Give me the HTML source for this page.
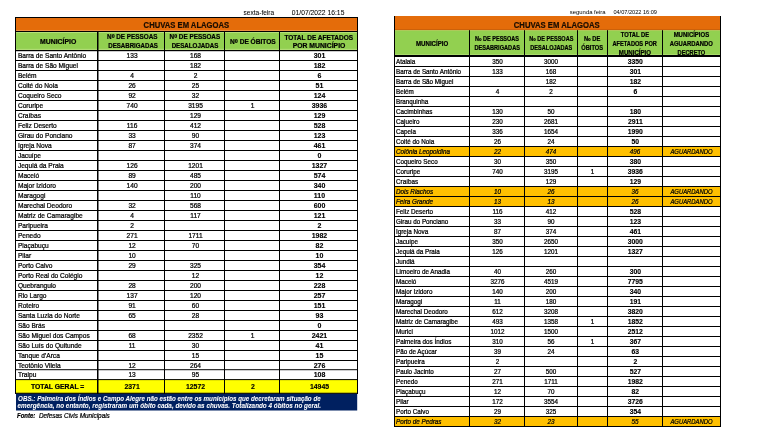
<!DOCTYPE html>
<html><head><meta charset="utf-8"><title>Chuvas em Alagoas</title>
<style>
html,body{margin:0;padding:0;background:#fff;}
body{width:760px;height:438px;overflow:hidden;}
svg{display:block;font-family:"Liberation Sans",sans-serif;will-change:transform;}
</style></head><body>
<svg width="760" height="438" viewBox="0 0 760 438">
<defs><clipPath id="hc"><rect x="390" y="28" width="340" height="27.2"/></clipPath></defs>
<rect x="15.00" y="17.00" width="343.00" height="14.00" fill="#E46C0A"/>
<rect x="15.00" y="31.00" width="343.00" height="19.00" fill="#92D050"/>
<rect x="15.00" y="50.00" width="343.00" height="329.60" fill="#fff"/>
<rect x="15.00" y="379.60" width="343.00" height="13.70" fill="#FFFF00"/>
<rect x="16.00" y="393.60" width="341.20" height="16.90" fill="#002060"/>
<rect x="16.00" y="30.20" width="341.00" height="0.80" fill="#ee9a50"/>
<rect x="16.00" y="32.00" width="341.00" height="1.00" fill="#b6e07a"/>
<rect x="16.00" y="48.80" width="341.00" height="1.20" fill="#b0dc74"/>
<rect x="15.00" y="17.00" width="343.00" height="1.00" fill="#000"/>
<rect x="15.00" y="31.00" width="343.00" height="1.00" fill="#000"/>
<rect x="15.00" y="50.00" width="343.00" height="1.20" fill="#000"/>
<rect x="15.00" y="60.00" width="343.00" height="1.00" fill="#000"/>
<rect x="15.00" y="70.00" width="343.00" height="1.00" fill="#000"/>
<rect x="15.00" y="80.00" width="343.00" height="1.00" fill="#000"/>
<rect x="15.00" y="90.00" width="343.00" height="1.00" fill="#000"/>
<rect x="15.00" y="100.00" width="343.00" height="1.00" fill="#000"/>
<rect x="15.00" y="110.00" width="343.00" height="1.00" fill="#000"/>
<rect x="15.00" y="120.00" width="343.00" height="1.00" fill="#000"/>
<rect x="15.00" y="130.00" width="343.00" height="1.00" fill="#000"/>
<rect x="15.00" y="140.00" width="343.00" height="1.00" fill="#000"/>
<rect x="15.00" y="150.00" width="343.00" height="1.00" fill="#000"/>
<rect x="15.00" y="160.00" width="343.00" height="1.00" fill="#000"/>
<rect x="15.00" y="170.00" width="343.00" height="1.00" fill="#000"/>
<rect x="15.00" y="180.00" width="343.00" height="1.00" fill="#000"/>
<rect x="15.00" y="190.00" width="343.00" height="1.00" fill="#000"/>
<rect x="15.00" y="200.00" width="343.00" height="1.00" fill="#000"/>
<rect x="15.00" y="210.00" width="343.00" height="1.00" fill="#000"/>
<rect x="15.00" y="220.00" width="343.00" height="1.00" fill="#000"/>
<rect x="15.00" y="230.00" width="343.00" height="1.00" fill="#000"/>
<rect x="15.00" y="240.00" width="343.00" height="1.00" fill="#000"/>
<rect x="15.00" y="250.00" width="343.00" height="1.00" fill="#000"/>
<rect x="15.00" y="260.00" width="343.00" height="1.00" fill="#000"/>
<rect x="15.00" y="270.00" width="343.00" height="1.00" fill="#000"/>
<rect x="15.00" y="280.00" width="343.00" height="1.00" fill="#000"/>
<rect x="15.00" y="290.00" width="343.00" height="1.00" fill="#000"/>
<rect x="15.00" y="300.00" width="343.00" height="1.00" fill="#000"/>
<rect x="15.00" y="310.00" width="343.00" height="1.00" fill="#000"/>
<rect x="15.00" y="320.00" width="343.00" height="1.00" fill="#000"/>
<rect x="15.00" y="330.00" width="343.00" height="1.00" fill="#000"/>
<rect x="15.00" y="340.00" width="343.00" height="1.00" fill="#000"/>
<rect x="15.00" y="350.00" width="343.00" height="1.00" fill="#000"/>
<rect x="15.00" y="360.00" width="343.00" height="1.00" fill="#000"/>
<rect x="15.00" y="369.20" width="343.00" height="1.00" fill="#000"/>
<rect x="15.00" y="379.10" width="343.00" height="1.00" fill="#000"/>
<rect x="15.00" y="392.75" width="343.00" height="1.10" fill="#000"/>
<rect x="15.00" y="17.00" width="1.00" height="376.80" fill="#000"/>
<rect x="97.00" y="31.00" width="1.50" height="362.80" fill="#000"/>
<rect x="164.00" y="31.00" width="1.00" height="362.80" fill="#000"/>
<rect x="224.00" y="31.00" width="1.00" height="362.80" fill="#000"/>
<rect x="279.00" y="31.00" width="1.00" height="362.80" fill="#000"/>
<rect x="357.00" y="17.00" width="1.00" height="376.80" fill="#000"/>
<text x="143.60" y="27.80" font-size="9.0" font-weight="bold" font-style="normal" fill="#1a0d00" text-anchor="start" textLength="85.60" lengthAdjust="spacingAndGlyphs" stroke="#1a0d00" stroke-width="0.22">CHUVAS EM ALAGOAS</text>
<text x="243.60" y="15.00" font-size="6.7" font-weight="normal" font-style="normal" fill="#000" text-anchor="start" textLength="30.50" lengthAdjust="spacingAndGlyphs" stroke="#000" stroke-width="0.05">sexta-feira</text>
<text x="291.80" y="15.00" font-size="6.9" font-weight="normal" font-style="normal" fill="#000" text-anchor="start" textLength="52.60" lengthAdjust="spacingAndGlyphs" stroke="#000" stroke-width="0.05">01/07/2022 16:15</text>
<text x="58.12" y="43.80" font-size="7.1" font-weight="bold" font-style="normal" fill="#000" text-anchor="middle" textLength="36.30" lengthAdjust="spacingAndGlyphs" stroke="#000" stroke-width="0.22">MUNICÍPIO</text>
<text x="132.30" y="38.80" font-size="7.0" font-weight="bold" font-style="normal" fill="#000" text-anchor="middle" textLength="50.50" lengthAdjust="spacingAndGlyphs" stroke="#000" stroke-width="0.22">N<tspan font-size="8.75" dy="2.66">º</tspan><tspan dy="-2.66"> DE PESSOAS</tspan></text>
<text x="133.10" y="47.90" font-size="7.0" font-weight="bold" font-style="normal" fill="#000" text-anchor="middle" textLength="49.70" lengthAdjust="spacingAndGlyphs" stroke="#000" stroke-width="0.22">DESABRIGADAS</text>
<text x="194.90" y="38.80" font-size="7.0" font-weight="bold" font-style="normal" fill="#000" text-anchor="middle" textLength="50.60" lengthAdjust="spacingAndGlyphs" stroke="#000" stroke-width="0.22">N<tspan font-size="8.75" dy="2.66">º</tspan><tspan dy="-2.66"> DE PESSOAS</tspan></text>
<text x="195.00" y="47.90" font-size="7.0" font-weight="bold" font-style="normal" fill="#000" text-anchor="middle" textLength="46.70" lengthAdjust="spacingAndGlyphs" stroke="#000" stroke-width="0.22">DESALOJADAS</text>
<text x="252.90" y="43.60" font-size="7.0" font-weight="bold" font-style="normal" fill="#000" text-anchor="middle" textLength="45.70" lengthAdjust="spacingAndGlyphs" stroke="#000" stroke-width="0.22">N<tspan font-size="8.75" dy="2.66">º</tspan><tspan dy="-2.66"> DE ÓBITOS</tspan></text>
<text x="318.80" y="39.50" font-size="7.1" font-weight="bold" font-style="normal" fill="#000" text-anchor="middle" textLength="68.80" lengthAdjust="spacingAndGlyphs" stroke="#000" stroke-width="0.22">TOTAL DE AFETADOS</text>
<text x="319.00" y="47.80" font-size="7.1" font-weight="bold" font-style="normal" fill="#000" text-anchor="middle" textLength="52.70" lengthAdjust="spacingAndGlyphs" stroke="#000" stroke-width="0.22">POR MUNICÍPIO</text>
<text x="17.90" y="58.20" font-size="6.6" font-weight="normal" font-style="normal" fill="#000" text-anchor="start" stroke="#000" stroke-width="0.22">Barra de Santo Antônio</text>
<text x="132.12" y="58.20" font-size="6.6" font-weight="normal" font-style="normal" fill="#000" text-anchor="middle" stroke="#000" stroke-width="0.22">133</text>
<text x="195.50" y="58.20" font-size="6.6" font-weight="normal" font-style="normal" fill="#000" text-anchor="middle" stroke="#000" stroke-width="0.22">168</text>
<text x="319.50" y="58.20" font-size="7.6" font-weight="bold" font-style="normal" fill="#000" text-anchor="middle" textLength="11.68" lengthAdjust="spacingAndGlyphs" stroke="#000" stroke-width="0.14">301</text>
<text x="17.90" y="68.20" font-size="6.6" font-weight="normal" font-style="normal" fill="#000" text-anchor="start" stroke="#000" stroke-width="0.22">Barra de São Miguel</text>
<text x="195.50" y="68.20" font-size="6.6" font-weight="normal" font-style="normal" fill="#000" text-anchor="middle" stroke="#000" stroke-width="0.22">182</text>
<text x="319.50" y="68.20" font-size="7.6" font-weight="bold" font-style="normal" fill="#000" text-anchor="middle" textLength="11.68" lengthAdjust="spacingAndGlyphs" stroke="#000" stroke-width="0.14">182</text>
<text x="17.90" y="78.20" font-size="6.6" font-weight="normal" font-style="normal" fill="#000" text-anchor="start" stroke="#000" stroke-width="0.22">Belém</text>
<text x="132.12" y="78.20" font-size="6.6" font-weight="normal" font-style="normal" fill="#000" text-anchor="middle" stroke="#000" stroke-width="0.22">4</text>
<text x="195.50" y="78.20" font-size="6.6" font-weight="normal" font-style="normal" fill="#000" text-anchor="middle" stroke="#000" stroke-width="0.22">2</text>
<text x="319.50" y="78.20" font-size="7.6" font-weight="bold" font-style="normal" fill="#000" text-anchor="middle" textLength="3.89" lengthAdjust="spacingAndGlyphs" stroke="#000" stroke-width="0.14">6</text>
<text x="17.90" y="88.20" font-size="6.6" font-weight="normal" font-style="normal" fill="#000" text-anchor="start" stroke="#000" stroke-width="0.22">Coité do Noia</text>
<text x="132.12" y="88.20" font-size="6.6" font-weight="normal" font-style="normal" fill="#000" text-anchor="middle" stroke="#000" stroke-width="0.22">26</text>
<text x="195.50" y="88.20" font-size="6.6" font-weight="normal" font-style="normal" fill="#000" text-anchor="middle" stroke="#000" stroke-width="0.22">25</text>
<text x="319.50" y="88.20" font-size="7.6" font-weight="bold" font-style="normal" fill="#000" text-anchor="middle" textLength="7.79" lengthAdjust="spacingAndGlyphs" stroke="#000" stroke-width="0.14">51</text>
<text x="17.90" y="98.20" font-size="6.6" font-weight="normal" font-style="normal" fill="#000" text-anchor="start" stroke="#000" stroke-width="0.22">Coqueiro Seco</text>
<text x="132.12" y="98.20" font-size="6.6" font-weight="normal" font-style="normal" fill="#000" text-anchor="middle" stroke="#000" stroke-width="0.22">92</text>
<text x="195.50" y="98.20" font-size="6.6" font-weight="normal" font-style="normal" fill="#000" text-anchor="middle" stroke="#000" stroke-width="0.22">32</text>
<text x="319.50" y="98.20" font-size="7.6" font-weight="bold" font-style="normal" fill="#000" text-anchor="middle" textLength="11.68" lengthAdjust="spacingAndGlyphs" stroke="#000" stroke-width="0.14">124</text>
<text x="17.90" y="108.20" font-size="6.6" font-weight="normal" font-style="normal" fill="#000" text-anchor="start" stroke="#000" stroke-width="0.22">Coruripe</text>
<text x="132.12" y="108.20" font-size="6.6" font-weight="normal" font-style="normal" fill="#000" text-anchor="middle" stroke="#000" stroke-width="0.22">740</text>
<text x="195.50" y="108.20" font-size="6.6" font-weight="normal" font-style="normal" fill="#000" text-anchor="middle" stroke="#000" stroke-width="0.22">3195</text>
<text x="252.50" y="108.20" font-size="6.6" font-weight="normal" font-style="normal" fill="#000" text-anchor="middle" stroke="#000" stroke-width="0.22">1</text>
<text x="319.50" y="108.20" font-size="7.6" font-weight="bold" font-style="normal" fill="#000" text-anchor="middle" textLength="15.57" lengthAdjust="spacingAndGlyphs" stroke="#000" stroke-width="0.14">3936</text>
<text x="17.90" y="118.20" font-size="6.6" font-weight="normal" font-style="normal" fill="#000" text-anchor="start" stroke="#000" stroke-width="0.22">Craíbas</text>
<text x="195.50" y="118.20" font-size="6.6" font-weight="normal" font-style="normal" fill="#000" text-anchor="middle" stroke="#000" stroke-width="0.22">129</text>
<text x="319.50" y="118.20" font-size="7.6" font-weight="bold" font-style="normal" fill="#000" text-anchor="middle" textLength="11.68" lengthAdjust="spacingAndGlyphs" stroke="#000" stroke-width="0.14">129</text>
<text x="17.90" y="128.20" font-size="6.6" font-weight="normal" font-style="normal" fill="#000" text-anchor="start" stroke="#000" stroke-width="0.22">Feliz Deserto</text>
<text x="132.12" y="128.20" font-size="6.6" font-weight="normal" font-style="normal" fill="#000" text-anchor="middle" stroke="#000" stroke-width="0.22">116</text>
<text x="195.50" y="128.20" font-size="6.6" font-weight="normal" font-style="normal" fill="#000" text-anchor="middle" stroke="#000" stroke-width="0.22">412</text>
<text x="319.50" y="128.20" font-size="7.6" font-weight="bold" font-style="normal" fill="#000" text-anchor="middle" textLength="11.68" lengthAdjust="spacingAndGlyphs" stroke="#000" stroke-width="0.14">528</text>
<text x="17.90" y="138.20" font-size="6.6" font-weight="normal" font-style="normal" fill="#000" text-anchor="start" stroke="#000" stroke-width="0.22">Girau do Ponciano</text>
<text x="132.12" y="138.20" font-size="6.6" font-weight="normal" font-style="normal" fill="#000" text-anchor="middle" stroke="#000" stroke-width="0.22">33</text>
<text x="195.50" y="138.20" font-size="6.6" font-weight="normal" font-style="normal" fill="#000" text-anchor="middle" stroke="#000" stroke-width="0.22">90</text>
<text x="319.50" y="138.20" font-size="7.6" font-weight="bold" font-style="normal" fill="#000" text-anchor="middle" textLength="11.68" lengthAdjust="spacingAndGlyphs" stroke="#000" stroke-width="0.14">123</text>
<text x="17.90" y="148.20" font-size="6.6" font-weight="normal" font-style="normal" fill="#000" text-anchor="start" stroke="#000" stroke-width="0.22">Igreja Nova</text>
<text x="132.12" y="148.20" font-size="6.6" font-weight="normal" font-style="normal" fill="#000" text-anchor="middle" stroke="#000" stroke-width="0.22">87</text>
<text x="195.50" y="148.20" font-size="6.6" font-weight="normal" font-style="normal" fill="#000" text-anchor="middle" stroke="#000" stroke-width="0.22">374</text>
<text x="319.50" y="148.20" font-size="7.6" font-weight="bold" font-style="normal" fill="#000" text-anchor="middle" textLength="11.68" lengthAdjust="spacingAndGlyphs" stroke="#000" stroke-width="0.14">461</text>
<text x="17.90" y="158.20" font-size="6.6" font-weight="normal" font-style="normal" fill="#000" text-anchor="start" stroke="#000" stroke-width="0.22">Jacuípe</text>
<text x="319.50" y="158.20" font-size="7.6" font-weight="bold" font-style="normal" fill="#000" text-anchor="middle" textLength="3.89" lengthAdjust="spacingAndGlyphs" stroke="#000" stroke-width="0.14">0</text>
<text x="17.90" y="168.20" font-size="6.6" font-weight="normal" font-style="normal" fill="#000" text-anchor="start" stroke="#000" stroke-width="0.22">Jequiá da Praia</text>
<text x="132.12" y="168.20" font-size="6.6" font-weight="normal" font-style="normal" fill="#000" text-anchor="middle" stroke="#000" stroke-width="0.22">126</text>
<text x="195.50" y="168.20" font-size="6.6" font-weight="normal" font-style="normal" fill="#000" text-anchor="middle" stroke="#000" stroke-width="0.22">1201</text>
<text x="319.50" y="168.20" font-size="7.6" font-weight="bold" font-style="normal" fill="#000" text-anchor="middle" textLength="15.57" lengthAdjust="spacingAndGlyphs" stroke="#000" stroke-width="0.14">1327</text>
<text x="17.90" y="178.20" font-size="6.6" font-weight="normal" font-style="normal" fill="#000" text-anchor="start" stroke="#000" stroke-width="0.22">Maceió</text>
<text x="132.12" y="178.20" font-size="6.6" font-weight="normal" font-style="normal" fill="#000" text-anchor="middle" stroke="#000" stroke-width="0.22">89</text>
<text x="195.50" y="178.20" font-size="6.6" font-weight="normal" font-style="normal" fill="#000" text-anchor="middle" stroke="#000" stroke-width="0.22">485</text>
<text x="319.50" y="178.20" font-size="7.6" font-weight="bold" font-style="normal" fill="#000" text-anchor="middle" textLength="11.68" lengthAdjust="spacingAndGlyphs" stroke="#000" stroke-width="0.14">574</text>
<text x="17.90" y="188.20" font-size="6.6" font-weight="normal" font-style="normal" fill="#000" text-anchor="start" stroke="#000" stroke-width="0.22">Major Izidoro</text>
<text x="132.12" y="188.20" font-size="6.6" font-weight="normal" font-style="normal" fill="#000" text-anchor="middle" stroke="#000" stroke-width="0.22">140</text>
<text x="195.50" y="188.20" font-size="6.6" font-weight="normal" font-style="normal" fill="#000" text-anchor="middle" stroke="#000" stroke-width="0.22">200</text>
<text x="319.50" y="188.20" font-size="7.6" font-weight="bold" font-style="normal" fill="#000" text-anchor="middle" textLength="11.68" lengthAdjust="spacingAndGlyphs" stroke="#000" stroke-width="0.14">340</text>
<text x="17.90" y="198.20" font-size="6.6" font-weight="normal" font-style="normal" fill="#000" text-anchor="start" stroke="#000" stroke-width="0.22">Maragogi</text>
<text x="195.50" y="198.20" font-size="6.6" font-weight="normal" font-style="normal" fill="#000" text-anchor="middle" stroke="#000" stroke-width="0.22">110</text>
<text x="319.50" y="198.20" font-size="7.6" font-weight="bold" font-style="normal" fill="#000" text-anchor="middle" textLength="11.29" lengthAdjust="spacingAndGlyphs" stroke="#000" stroke-width="0.14">110</text>
<text x="17.90" y="208.20" font-size="6.6" font-weight="normal" font-style="normal" fill="#000" text-anchor="start" stroke="#000" stroke-width="0.22">Marechal Deodoro</text>
<text x="132.12" y="208.20" font-size="6.6" font-weight="normal" font-style="normal" fill="#000" text-anchor="middle" stroke="#000" stroke-width="0.22">32</text>
<text x="195.50" y="208.20" font-size="6.6" font-weight="normal" font-style="normal" fill="#000" text-anchor="middle" stroke="#000" stroke-width="0.22">568</text>
<text x="319.50" y="208.20" font-size="7.6" font-weight="bold" font-style="normal" fill="#000" text-anchor="middle" textLength="11.68" lengthAdjust="spacingAndGlyphs" stroke="#000" stroke-width="0.14">600</text>
<text x="17.90" y="218.20" font-size="6.6" font-weight="normal" font-style="normal" fill="#000" text-anchor="start" stroke="#000" stroke-width="0.22">Matriz de Camaragibe</text>
<text x="132.12" y="218.20" font-size="6.6" font-weight="normal" font-style="normal" fill="#000" text-anchor="middle" stroke="#000" stroke-width="0.22">4</text>
<text x="195.50" y="218.20" font-size="6.6" font-weight="normal" font-style="normal" fill="#000" text-anchor="middle" stroke="#000" stroke-width="0.22">117</text>
<text x="319.50" y="218.20" font-size="7.6" font-weight="bold" font-style="normal" fill="#000" text-anchor="middle" textLength="11.68" lengthAdjust="spacingAndGlyphs" stroke="#000" stroke-width="0.14">121</text>
<text x="17.90" y="228.20" font-size="6.6" font-weight="normal" font-style="normal" fill="#000" text-anchor="start" stroke="#000" stroke-width="0.22">Paripueira</text>
<text x="132.12" y="228.20" font-size="6.6" font-weight="normal" font-style="normal" fill="#000" text-anchor="middle" stroke="#000" stroke-width="0.22">2</text>
<text x="319.50" y="228.20" font-size="7.6" font-weight="bold" font-style="normal" fill="#000" text-anchor="middle" textLength="3.89" lengthAdjust="spacingAndGlyphs" stroke="#000" stroke-width="0.14">2</text>
<text x="17.90" y="238.20" font-size="6.6" font-weight="normal" font-style="normal" fill="#000" text-anchor="start" stroke="#000" stroke-width="0.22">Penedo</text>
<text x="132.12" y="238.20" font-size="6.6" font-weight="normal" font-style="normal" fill="#000" text-anchor="middle" stroke="#000" stroke-width="0.22">271</text>
<text x="195.50" y="238.20" font-size="6.6" font-weight="normal" font-style="normal" fill="#000" text-anchor="middle" stroke="#000" stroke-width="0.22">1711</text>
<text x="319.50" y="238.20" font-size="7.6" font-weight="bold" font-style="normal" fill="#000" text-anchor="middle" textLength="15.57" lengthAdjust="spacingAndGlyphs" stroke="#000" stroke-width="0.14">1982</text>
<text x="17.90" y="248.20" font-size="6.6" font-weight="normal" font-style="normal" fill="#000" text-anchor="start" stroke="#000" stroke-width="0.22">Piaçabuçu</text>
<text x="132.12" y="248.20" font-size="6.6" font-weight="normal" font-style="normal" fill="#000" text-anchor="middle" stroke="#000" stroke-width="0.22">12</text>
<text x="195.50" y="248.20" font-size="6.6" font-weight="normal" font-style="normal" fill="#000" text-anchor="middle" stroke="#000" stroke-width="0.22">70</text>
<text x="319.50" y="248.20" font-size="7.6" font-weight="bold" font-style="normal" fill="#000" text-anchor="middle" textLength="7.79" lengthAdjust="spacingAndGlyphs" stroke="#000" stroke-width="0.14">82</text>
<text x="17.90" y="258.20" font-size="6.6" font-weight="normal" font-style="normal" fill="#000" text-anchor="start" stroke="#000" stroke-width="0.22">Pilar</text>
<text x="132.12" y="258.20" font-size="6.6" font-weight="normal" font-style="normal" fill="#000" text-anchor="middle" stroke="#000" stroke-width="0.22">10</text>
<text x="319.50" y="258.20" font-size="7.6" font-weight="bold" font-style="normal" fill="#000" text-anchor="middle" textLength="7.79" lengthAdjust="spacingAndGlyphs" stroke="#000" stroke-width="0.14">10</text>
<text x="17.90" y="268.20" font-size="6.6" font-weight="normal" font-style="normal" fill="#000" text-anchor="start" stroke="#000" stroke-width="0.22">Porto Calvo</text>
<text x="132.12" y="268.20" font-size="6.6" font-weight="normal" font-style="normal" fill="#000" text-anchor="middle" stroke="#000" stroke-width="0.22">29</text>
<text x="195.50" y="268.20" font-size="6.6" font-weight="normal" font-style="normal" fill="#000" text-anchor="middle" stroke="#000" stroke-width="0.22">325</text>
<text x="319.50" y="268.20" font-size="7.6" font-weight="bold" font-style="normal" fill="#000" text-anchor="middle" textLength="11.68" lengthAdjust="spacingAndGlyphs" stroke="#000" stroke-width="0.14">354</text>
<text x="17.90" y="278.20" font-size="6.6" font-weight="normal" font-style="normal" fill="#000" text-anchor="start" stroke="#000" stroke-width="0.22">Porto Real do Colégio</text>
<text x="195.50" y="278.20" font-size="6.6" font-weight="normal" font-style="normal" fill="#000" text-anchor="middle" stroke="#000" stroke-width="0.22">12</text>
<text x="319.50" y="278.20" font-size="7.6" font-weight="bold" font-style="normal" fill="#000" text-anchor="middle" textLength="7.79" lengthAdjust="spacingAndGlyphs" stroke="#000" stroke-width="0.14">12</text>
<text x="17.90" y="288.20" font-size="6.6" font-weight="normal" font-style="normal" fill="#000" text-anchor="start" stroke="#000" stroke-width="0.22">Quebrangulo</text>
<text x="132.12" y="288.20" font-size="6.6" font-weight="normal" font-style="normal" fill="#000" text-anchor="middle" stroke="#000" stroke-width="0.22">28</text>
<text x="195.50" y="288.20" font-size="6.6" font-weight="normal" font-style="normal" fill="#000" text-anchor="middle" stroke="#000" stroke-width="0.22">200</text>
<text x="319.50" y="288.20" font-size="7.6" font-weight="bold" font-style="normal" fill="#000" text-anchor="middle" textLength="11.68" lengthAdjust="spacingAndGlyphs" stroke="#000" stroke-width="0.14">228</text>
<text x="17.90" y="298.20" font-size="6.6" font-weight="normal" font-style="normal" fill="#000" text-anchor="start" stroke="#000" stroke-width="0.22">Rio Largo</text>
<text x="132.12" y="298.20" font-size="6.6" font-weight="normal" font-style="normal" fill="#000" text-anchor="middle" stroke="#000" stroke-width="0.22">137</text>
<text x="195.50" y="298.20" font-size="6.6" font-weight="normal" font-style="normal" fill="#000" text-anchor="middle" stroke="#000" stroke-width="0.22">120</text>
<text x="319.50" y="298.20" font-size="7.6" font-weight="bold" font-style="normal" fill="#000" text-anchor="middle" textLength="11.68" lengthAdjust="spacingAndGlyphs" stroke="#000" stroke-width="0.14">257</text>
<text x="17.90" y="308.20" font-size="6.6" font-weight="normal" font-style="normal" fill="#000" text-anchor="start" stroke="#000" stroke-width="0.22">Roteiro</text>
<text x="132.12" y="308.20" font-size="6.6" font-weight="normal" font-style="normal" fill="#000" text-anchor="middle" stroke="#000" stroke-width="0.22">91</text>
<text x="195.50" y="308.20" font-size="6.6" font-weight="normal" font-style="normal" fill="#000" text-anchor="middle" stroke="#000" stroke-width="0.22">60</text>
<text x="319.50" y="308.20" font-size="7.6" font-weight="bold" font-style="normal" fill="#000" text-anchor="middle" textLength="11.68" lengthAdjust="spacingAndGlyphs" stroke="#000" stroke-width="0.14">151</text>
<text x="17.90" y="318.20" font-size="6.6" font-weight="normal" font-style="normal" fill="#000" text-anchor="start" stroke="#000" stroke-width="0.22">Santa Luzia do Norte</text>
<text x="132.12" y="318.20" font-size="6.6" font-weight="normal" font-style="normal" fill="#000" text-anchor="middle" stroke="#000" stroke-width="0.22">65</text>
<text x="195.50" y="318.20" font-size="6.6" font-weight="normal" font-style="normal" fill="#000" text-anchor="middle" stroke="#000" stroke-width="0.22">28</text>
<text x="319.50" y="318.20" font-size="7.6" font-weight="bold" font-style="normal" fill="#000" text-anchor="middle" textLength="7.79" lengthAdjust="spacingAndGlyphs" stroke="#000" stroke-width="0.14">93</text>
<text x="17.90" y="328.20" font-size="6.6" font-weight="normal" font-style="normal" fill="#000" text-anchor="start" stroke="#000" stroke-width="0.22">São Brás</text>
<text x="319.50" y="328.20" font-size="7.6" font-weight="bold" font-style="normal" fill="#000" text-anchor="middle" textLength="3.89" lengthAdjust="spacingAndGlyphs" stroke="#000" stroke-width="0.14">0</text>
<text x="17.90" y="338.20" font-size="6.6" font-weight="normal" font-style="normal" fill="#000" text-anchor="start" stroke="#000" stroke-width="0.22">São Miguel dos Campos</text>
<text x="132.12" y="338.20" font-size="6.6" font-weight="normal" font-style="normal" fill="#000" text-anchor="middle" stroke="#000" stroke-width="0.22">68</text>
<text x="195.50" y="338.20" font-size="6.6" font-weight="normal" font-style="normal" fill="#000" text-anchor="middle" stroke="#000" stroke-width="0.22">2352</text>
<text x="252.50" y="338.20" font-size="6.6" font-weight="normal" font-style="normal" fill="#000" text-anchor="middle" stroke="#000" stroke-width="0.22">1</text>
<text x="319.50" y="338.20" font-size="7.6" font-weight="bold" font-style="normal" fill="#000" text-anchor="middle" textLength="15.57" lengthAdjust="spacingAndGlyphs" stroke="#000" stroke-width="0.14">2421</text>
<text x="17.90" y="348.20" font-size="6.6" font-weight="normal" font-style="normal" fill="#000" text-anchor="start" stroke="#000" stroke-width="0.22">São Luís do Quitunde</text>
<text x="132.12" y="348.20" font-size="6.6" font-weight="normal" font-style="normal" fill="#000" text-anchor="middle" stroke="#000" stroke-width="0.22">11</text>
<text x="195.50" y="348.20" font-size="6.6" font-weight="normal" font-style="normal" fill="#000" text-anchor="middle" stroke="#000" stroke-width="0.22">30</text>
<text x="319.50" y="348.20" font-size="7.6" font-weight="bold" font-style="normal" fill="#000" text-anchor="middle" textLength="7.79" lengthAdjust="spacingAndGlyphs" stroke="#000" stroke-width="0.14">41</text>
<text x="17.90" y="358.20" font-size="6.6" font-weight="normal" font-style="normal" fill="#000" text-anchor="start" stroke="#000" stroke-width="0.22">Tanque d&#x27;Arca</text>
<text x="195.50" y="358.20" font-size="6.6" font-weight="normal" font-style="normal" fill="#000" text-anchor="middle" stroke="#000" stroke-width="0.22">15</text>
<text x="319.50" y="358.20" font-size="7.6" font-weight="bold" font-style="normal" fill="#000" text-anchor="middle" textLength="7.79" lengthAdjust="spacingAndGlyphs" stroke="#000" stroke-width="0.14">15</text>
<text x="17.90" y="368.20" font-size="6.6" font-weight="normal" font-style="normal" fill="#000" text-anchor="start" stroke="#000" stroke-width="0.22">Teotônio Vilela</text>
<text x="132.12" y="368.20" font-size="6.6" font-weight="normal" font-style="normal" fill="#000" text-anchor="middle" stroke="#000" stroke-width="0.22">12</text>
<text x="195.50" y="368.20" font-size="6.6" font-weight="normal" font-style="normal" fill="#000" text-anchor="middle" stroke="#000" stroke-width="0.22">264</text>
<text x="319.50" y="368.20" font-size="7.6" font-weight="bold" font-style="normal" fill="#000" text-anchor="middle" textLength="11.68" lengthAdjust="spacingAndGlyphs" stroke="#000" stroke-width="0.14">276</text>
<text x="17.90" y="377.40" font-size="6.6" font-weight="normal" font-style="normal" fill="#000" text-anchor="start" stroke="#000" stroke-width="0.22">Traipu</text>
<text x="132.12" y="377.40" font-size="6.6" font-weight="normal" font-style="normal" fill="#000" text-anchor="middle" stroke="#000" stroke-width="0.22">13</text>
<text x="195.50" y="377.40" font-size="6.6" font-weight="normal" font-style="normal" fill="#000" text-anchor="middle" stroke="#000" stroke-width="0.22">95</text>
<text x="319.50" y="377.40" font-size="7.6" font-weight="bold" font-style="normal" fill="#000" text-anchor="middle" textLength="11.68" lengthAdjust="spacingAndGlyphs" stroke="#000" stroke-width="0.14">108</text>
<text x="57.62" y="388.85" font-size="6.8" font-weight="bold" font-style="normal" fill="#000" text-anchor="middle" stroke="#000" stroke-width="0.22">TOTAL GERAL =</text>
<text x="132.12" y="388.85" font-size="7.5" font-weight="bold" font-style="normal" fill="#000" text-anchor="middle" textLength="15.35" lengthAdjust="spacingAndGlyphs" stroke="#000" stroke-width="0.14">2371</text>
<text x="195.50" y="388.85" font-size="7.5" font-weight="bold" font-style="normal" fill="#000" text-anchor="middle" textLength="19.19" lengthAdjust="spacingAndGlyphs" stroke="#000" stroke-width="0.14">12572</text>
<text x="253.00" y="388.85" font-size="7.5" font-weight="bold" font-style="normal" fill="#000" text-anchor="middle" textLength="3.84" lengthAdjust="spacingAndGlyphs" stroke="#000" stroke-width="0.14">2</text>
<text x="319.50" y="388.85" font-size="7.5" font-weight="bold" font-style="normal" fill="#000" text-anchor="middle" textLength="19.19" lengthAdjust="spacingAndGlyphs" stroke="#000" stroke-width="0.14">14945</text>
<text x="18.10" y="400.60" font-size="7.0" font-weight="bold" font-style="italic" fill="#fff" text-anchor="start" textLength="302.60" lengthAdjust="spacingAndGlyphs" stroke="#fff" stroke-width="0.05">OBS.: Palmeira dos Índios e Campo Alegre não estão entre os municípios que decretaram situação de</text>
<text x="17.60" y="408.40" font-size="7.0" font-weight="bold" font-style="italic" fill="#fff" text-anchor="start" textLength="303.40" lengthAdjust="spacingAndGlyphs" stroke="#fff" stroke-width="0.05">emergência, no entanto, registraram um óbito cada, devido as chuvas. Totalizando 4 óbitos no geral.</text>
<text x="17.00" y="418.00" font-size="6.6" font-weight="bold" font-style="italic" fill="#000" text-anchor="start" textLength="18.30" lengthAdjust="spacingAndGlyphs" stroke="#000" stroke-width="0.22">Fonte:</text>
<text x="38.90" y="418.00" font-size="6.6" font-weight="normal" font-style="italic" fill="#000" text-anchor="start" textLength="70.90" lengthAdjust="spacingAndGlyphs" stroke="#000" stroke-width="0.22">Defesas Civis Municipais</text>
<rect x="394.00" y="16.00" width="327.00" height="14.20" fill="#E46C0A"/>
<rect x="394.00" y="30.20" width="327.00" height="25.80" fill="#92D050"/>
<rect x="394.00" y="56.50" width="327.00" height="10.00" fill="#fff"/>
<rect x="394.00" y="66.50" width="327.00" height="10.00" fill="#fff"/>
<rect x="394.00" y="76.50" width="327.00" height="10.00" fill="#fff"/>
<rect x="394.00" y="86.50" width="327.00" height="10.00" fill="#fff"/>
<rect x="394.00" y="96.50" width="327.00" height="10.00" fill="#fff"/>
<rect x="394.00" y="106.50" width="327.00" height="10.00" fill="#fff"/>
<rect x="394.00" y="116.50" width="327.00" height="10.00" fill="#fff"/>
<rect x="394.00" y="126.50" width="327.00" height="10.00" fill="#fff"/>
<rect x="394.00" y="136.50" width="327.00" height="10.00" fill="#fff"/>
<rect x="394.00" y="146.50" width="327.00" height="10.00" fill="#FFC000"/>
<rect x="394.00" y="156.50" width="327.00" height="10.00" fill="#fff"/>
<rect x="394.00" y="166.50" width="327.00" height="10.00" fill="#fff"/>
<rect x="394.00" y="176.50" width="327.00" height="10.00" fill="#fff"/>
<rect x="394.00" y="186.50" width="327.00" height="10.00" fill="#FFC000"/>
<rect x="394.00" y="196.50" width="327.00" height="10.00" fill="#FFC000"/>
<rect x="394.00" y="206.50" width="327.00" height="10.00" fill="#fff"/>
<rect x="394.00" y="216.50" width="327.00" height="10.00" fill="#fff"/>
<rect x="394.00" y="226.50" width="327.00" height="10.00" fill="#fff"/>
<rect x="394.00" y="236.50" width="327.00" height="10.00" fill="#fff"/>
<rect x="394.00" y="246.50" width="327.00" height="10.00" fill="#fff"/>
<rect x="394.00" y="256.50" width="327.00" height="10.00" fill="#fff"/>
<rect x="394.00" y="266.50" width="327.00" height="10.00" fill="#fff"/>
<rect x="394.00" y="276.50" width="327.00" height="10.00" fill="#fff"/>
<rect x="394.00" y="286.50" width="327.00" height="10.00" fill="#fff"/>
<rect x="394.00" y="296.50" width="327.00" height="10.00" fill="#fff"/>
<rect x="394.00" y="306.50" width="327.00" height="10.00" fill="#fff"/>
<rect x="394.00" y="316.50" width="327.00" height="10.00" fill="#fff"/>
<rect x="394.00" y="326.50" width="327.00" height="10.00" fill="#fff"/>
<rect x="394.00" y="336.50" width="327.00" height="10.00" fill="#fff"/>
<rect x="394.00" y="346.50" width="327.00" height="10.00" fill="#fff"/>
<rect x="394.00" y="356.50" width="327.00" height="10.00" fill="#fff"/>
<rect x="394.00" y="366.50" width="327.00" height="10.00" fill="#fff"/>
<rect x="394.00" y="376.50" width="327.00" height="10.00" fill="#fff"/>
<rect x="394.00" y="386.50" width="327.00" height="10.00" fill="#fff"/>
<rect x="394.00" y="396.50" width="327.00" height="10.00" fill="#fff"/>
<rect x="394.00" y="406.50" width="327.00" height="10.00" fill="#fff"/>
<rect x="394.00" y="416.50" width="327.00" height="10.00" fill="#FFC000"/>
<rect x="394.00" y="29.55" width="327.00" height="0.70" fill="#b0560c"/>
<rect x="394.00" y="30.40" width="327.00" height="0.60" fill="#b5d862"/>
<rect x="394.00" y="54.20" width="327.00" height="0.80" fill="#b0dc74"/>
<rect x="394.00" y="55.00" width="327.00" height="2.00" fill="#000"/>
<rect x="394.00" y="66.00" width="327.00" height="1.00" fill="#000"/>
<rect x="394.00" y="76.00" width="327.00" height="1.00" fill="#000"/>
<rect x="394.00" y="86.00" width="327.00" height="1.00" fill="#000"/>
<rect x="394.00" y="96.00" width="327.00" height="1.00" fill="#000"/>
<rect x="394.00" y="106.00" width="327.00" height="1.00" fill="#000"/>
<rect x="394.00" y="116.00" width="327.00" height="1.00" fill="#000"/>
<rect x="394.00" y="126.00" width="327.00" height="1.00" fill="#000"/>
<rect x="394.00" y="136.00" width="327.00" height="1.00" fill="#000"/>
<rect x="394.00" y="146.00" width="327.00" height="1.00" fill="#000"/>
<rect x="394.00" y="156.00" width="327.00" height="1.00" fill="#000"/>
<rect x="394.00" y="166.00" width="327.00" height="1.00" fill="#000"/>
<rect x="394.00" y="176.00" width="327.00" height="1.00" fill="#000"/>
<rect x="394.00" y="186.00" width="327.00" height="1.00" fill="#000"/>
<rect x="394.00" y="196.00" width="327.00" height="1.00" fill="#000"/>
<rect x="394.00" y="206.00" width="327.00" height="1.00" fill="#000"/>
<rect x="394.00" y="216.00" width="327.00" height="1.00" fill="#000"/>
<rect x="394.00" y="226.00" width="327.00" height="1.00" fill="#000"/>
<rect x="394.00" y="236.00" width="327.00" height="1.00" fill="#000"/>
<rect x="394.00" y="246.00" width="327.00" height="1.00" fill="#000"/>
<rect x="394.00" y="256.00" width="327.00" height="1.00" fill="#000"/>
<rect x="394.00" y="266.00" width="327.00" height="1.00" fill="#000"/>
<rect x="394.00" y="276.00" width="327.00" height="1.00" fill="#000"/>
<rect x="394.00" y="286.00" width="327.00" height="1.00" fill="#000"/>
<rect x="394.00" y="296.00" width="327.00" height="1.00" fill="#000"/>
<rect x="394.00" y="306.00" width="327.00" height="1.00" fill="#000"/>
<rect x="394.00" y="316.00" width="327.00" height="1.00" fill="#000"/>
<rect x="394.00" y="326.00" width="327.00" height="1.00" fill="#000"/>
<rect x="394.00" y="336.00" width="327.00" height="1.00" fill="#000"/>
<rect x="394.00" y="346.00" width="327.00" height="1.00" fill="#000"/>
<rect x="394.00" y="356.00" width="327.00" height="1.00" fill="#000"/>
<rect x="394.00" y="366.00" width="327.00" height="1.00" fill="#000"/>
<rect x="394.00" y="376.00" width="327.00" height="1.00" fill="#000"/>
<rect x="394.00" y="386.00" width="327.00" height="1.00" fill="#000"/>
<rect x="394.00" y="396.00" width="327.00" height="1.00" fill="#000"/>
<rect x="394.00" y="406.00" width="327.00" height="1.00" fill="#000"/>
<rect x="394.00" y="416.00" width="327.00" height="1.00" fill="#000"/>
<rect x="394.00" y="426.00" width="327.00" height="1.00" fill="#000"/>
<rect x="394.00" y="16.00" width="1.00" height="411.00" fill="#000"/>
<rect x="469.00" y="30.20" width="1.00" height="396.80" fill="#000"/>
<rect x="524.00" y="30.20" width="1.00" height="396.80" fill="#000"/>
<rect x="577.00" y="30.20" width="1.00" height="396.80" fill="#000"/>
<rect x="607.00" y="30.20" width="1.00" height="396.80" fill="#000"/>
<rect x="662.00" y="30.20" width="1.00" height="396.80" fill="#000"/>
<rect x="720.00" y="16.00" width="1.00" height="411.00" fill="#000"/>
<text x="513.80" y="27.50" font-size="9.0" font-weight="bold" font-style="normal" fill="#1a0d00" text-anchor="start" textLength="85.80" lengthAdjust="spacingAndGlyphs" stroke="#1a0d00" stroke-width="0.22">CHUVAS EM ALAGOAS</text>
<text x="569.80" y="14.00" font-size="6.0" font-weight="normal" font-style="normal" fill="#000" text-anchor="start" textLength="35.80" lengthAdjust="spacingAndGlyphs">segunda feira</text>
<text x="613.40" y="13.90" font-size="5.9" font-weight="normal" font-style="normal" fill="#000" text-anchor="start" textLength="43.60" lengthAdjust="spacingAndGlyphs">04/07/2022 16:09</text>
<text x="432.10" y="45.90" font-size="6.7" font-weight="bold" font-style="normal" fill="#000" text-anchor="middle" textLength="32.20" lengthAdjust="spacingAndGlyphs" stroke="#000" stroke-width="0.22">MUNICÍPIO</text>
<text x="497.00" y="41.30" font-size="6.3" font-weight="bold" font-style="normal" fill="#000" text-anchor="middle" textLength="44.10" lengthAdjust="spacingAndGlyphs" stroke="#000" stroke-width="0.22">N<tspan font-size="7.88" dy="2.39">º</tspan><tspan dy="-2.39"> DE PESSOAS</tspan></text>
<text x="497.20" y="49.90" font-size="6.3" font-weight="bold" font-style="normal" fill="#000" text-anchor="middle" textLength="45.50" lengthAdjust="spacingAndGlyphs" stroke="#000" stroke-width="0.22">DESABRIGADAS</text>
<text x="551.30" y="41.30" font-size="6.3" font-weight="bold" font-style="normal" fill="#000" text-anchor="middle" textLength="44.10" lengthAdjust="spacingAndGlyphs" stroke="#000" stroke-width="0.22">N<tspan font-size="7.88" dy="2.39">º</tspan><tspan dy="-2.39"> DE PESSOAS</tspan></text>
<text x="551.30" y="49.90" font-size="6.3" font-weight="bold" font-style="normal" fill="#000" text-anchor="middle" textLength="42.00" lengthAdjust="spacingAndGlyphs" stroke="#000" stroke-width="0.22">DESALOJADAS</text>
<text x="592.10" y="41.40" font-size="6.5" font-weight="bold" font-style="normal" fill="#000" text-anchor="middle" textLength="16.40" lengthAdjust="spacingAndGlyphs" stroke="#000" stroke-width="0.22">N<tspan font-size="8.12" dy="2.47">º</tspan><tspan dy="-2.47"> DE</tspan></text>
<text x="592.20" y="50.10" font-size="6.5" font-weight="bold" font-style="normal" fill="#000" text-anchor="middle" textLength="21.70" lengthAdjust="spacingAndGlyphs" stroke="#000" stroke-width="0.22">ÓBITOS</text>
<text x="634.90" y="36.90" font-size="6.6" font-weight="bold" font-style="normal" fill="#000" text-anchor="middle" textLength="28.20" lengthAdjust="spacingAndGlyphs" stroke="#000" stroke-width="0.22">TOTAL DE</text>
<text x="634.70" y="45.70" font-size="6.6" font-weight="bold" font-style="normal" fill="#000" text-anchor="middle" textLength="44.40" lengthAdjust="spacingAndGlyphs" stroke="#000" stroke-width="0.22">AFETADOS POR</text>
<text x="634.90" y="54.60" font-size="6.6" font-weight="bold" font-style="normal" fill="#000" text-anchor="middle" textLength="32.20" lengthAdjust="spacingAndGlyphs" clip-path="url(#hc)" stroke="#000" stroke-width="0.22">MUNICÍPIO</text>
<text x="691.40" y="36.90" font-size="6.6" font-weight="bold" font-style="normal" fill="#000" text-anchor="middle" textLength="35.50" lengthAdjust="spacingAndGlyphs" stroke="#000" stroke-width="0.22">MUNICÍPIOS</text>
<text x="691.20" y="45.70" font-size="6.6" font-weight="bold" font-style="normal" fill="#000" text-anchor="middle" textLength="43.10" lengthAdjust="spacingAndGlyphs" stroke="#000" stroke-width="0.22">AGUARDANDO</text>
<text x="691.40" y="54.60" font-size="6.6" font-weight="bold" font-style="normal" fill="#000" text-anchor="middle" textLength="27.70" lengthAdjust="spacingAndGlyphs" clip-path="url(#hc)" stroke="#000" stroke-width="0.22">DECRETO</text>
<text x="396.00" y="64.20" font-size="6.3" font-weight="normal" font-style="normal" fill="#000" text-anchor="start" stroke="#000" stroke-width="0.22">Atalaia</text>
<text x="497.50" y="64.20" font-size="6.3" font-weight="normal" font-style="normal" fill="#000" text-anchor="middle" stroke="#000" stroke-width="0.22">350</text>
<text x="551.00" y="64.20" font-size="6.3" font-weight="normal" font-style="normal" fill="#000" text-anchor="middle" stroke="#000" stroke-width="0.22">3000</text>
<text x="635.30" y="64.20" font-size="7.3" font-weight="bold" font-style="normal" fill="#000" text-anchor="middle" textLength="15.13" lengthAdjust="spacingAndGlyphs" stroke="#000" stroke-width="0.14">3350</text>
<text x="396.00" y="74.20" font-size="6.3" font-weight="normal" font-style="normal" fill="#000" text-anchor="start" stroke="#000" stroke-width="0.22">Barra de Santo Antônio</text>
<text x="497.50" y="74.20" font-size="6.3" font-weight="normal" font-style="normal" fill="#000" text-anchor="middle" stroke="#000" stroke-width="0.22">133</text>
<text x="551.00" y="74.20" font-size="6.3" font-weight="normal" font-style="normal" fill="#000" text-anchor="middle" stroke="#000" stroke-width="0.22">168</text>
<text x="635.30" y="74.20" font-size="7.3" font-weight="bold" font-style="normal" fill="#000" text-anchor="middle" textLength="11.35" lengthAdjust="spacingAndGlyphs" stroke="#000" stroke-width="0.14">301</text>
<text x="396.00" y="84.20" font-size="6.3" font-weight="normal" font-style="normal" fill="#000" text-anchor="start" stroke="#000" stroke-width="0.22">Barra de São Miguel</text>
<text x="551.00" y="84.20" font-size="6.3" font-weight="normal" font-style="normal" fill="#000" text-anchor="middle" stroke="#000" stroke-width="0.22">182</text>
<text x="635.30" y="84.20" font-size="7.3" font-weight="bold" font-style="normal" fill="#000" text-anchor="middle" textLength="11.35" lengthAdjust="spacingAndGlyphs" stroke="#000" stroke-width="0.14">182</text>
<text x="396.00" y="94.20" font-size="6.3" font-weight="normal" font-style="normal" fill="#000" text-anchor="start" stroke="#000" stroke-width="0.22">Belém</text>
<text x="497.50" y="94.20" font-size="6.3" font-weight="normal" font-style="normal" fill="#000" text-anchor="middle" stroke="#000" stroke-width="0.22">4</text>
<text x="551.00" y="94.20" font-size="6.3" font-weight="normal" font-style="normal" fill="#000" text-anchor="middle" stroke="#000" stroke-width="0.22">2</text>
<text x="635.30" y="94.20" font-size="7.3" font-weight="bold" font-style="normal" fill="#000" text-anchor="middle" textLength="3.78" lengthAdjust="spacingAndGlyphs" stroke="#000" stroke-width="0.14">6</text>
<text x="396.00" y="104.20" font-size="6.3" font-weight="normal" font-style="normal" fill="#000" text-anchor="start" stroke="#000" stroke-width="0.22">Branquinha</text>
<text x="396.00" y="114.20" font-size="6.3" font-weight="normal" font-style="normal" fill="#000" text-anchor="start" stroke="#000" stroke-width="0.22">Cacimbinhas</text>
<text x="497.50" y="114.20" font-size="6.3" font-weight="normal" font-style="normal" fill="#000" text-anchor="middle" stroke="#000" stroke-width="0.22">130</text>
<text x="551.00" y="114.20" font-size="6.3" font-weight="normal" font-style="normal" fill="#000" text-anchor="middle" stroke="#000" stroke-width="0.22">50</text>
<text x="635.30" y="114.20" font-size="7.3" font-weight="bold" font-style="normal" fill="#000" text-anchor="middle" textLength="11.35" lengthAdjust="spacingAndGlyphs" stroke="#000" stroke-width="0.14">180</text>
<text x="396.00" y="124.20" font-size="6.3" font-weight="normal" font-style="normal" fill="#000" text-anchor="start" stroke="#000" stroke-width="0.22">Cajueiro</text>
<text x="497.50" y="124.20" font-size="6.3" font-weight="normal" font-style="normal" fill="#000" text-anchor="middle" stroke="#000" stroke-width="0.22">230</text>
<text x="551.00" y="124.20" font-size="6.3" font-weight="normal" font-style="normal" fill="#000" text-anchor="middle" stroke="#000" stroke-width="0.22">2681</text>
<text x="635.30" y="124.20" font-size="7.3" font-weight="bold" font-style="normal" fill="#000" text-anchor="middle" textLength="14.75" lengthAdjust="spacingAndGlyphs" stroke="#000" stroke-width="0.14">2911</text>
<text x="396.00" y="134.20" font-size="6.3" font-weight="normal" font-style="normal" fill="#000" text-anchor="start" stroke="#000" stroke-width="0.22">Capela</text>
<text x="497.50" y="134.20" font-size="6.3" font-weight="normal" font-style="normal" fill="#000" text-anchor="middle" stroke="#000" stroke-width="0.22">336</text>
<text x="551.00" y="134.20" font-size="6.3" font-weight="normal" font-style="normal" fill="#000" text-anchor="middle" stroke="#000" stroke-width="0.22">1654</text>
<text x="635.30" y="134.20" font-size="7.3" font-weight="bold" font-style="normal" fill="#000" text-anchor="middle" textLength="15.13" lengthAdjust="spacingAndGlyphs" stroke="#000" stroke-width="0.14">1990</text>
<text x="396.00" y="144.20" font-size="6.3" font-weight="normal" font-style="normal" fill="#000" text-anchor="start" stroke="#000" stroke-width="0.22">Coité do Noia</text>
<text x="497.50" y="144.20" font-size="6.3" font-weight="normal" font-style="normal" fill="#000" text-anchor="middle" stroke="#000" stroke-width="0.22">26</text>
<text x="551.00" y="144.20" font-size="6.3" font-weight="normal" font-style="normal" fill="#000" text-anchor="middle" stroke="#000" stroke-width="0.22">24</text>
<text x="635.30" y="144.20" font-size="7.3" font-weight="bold" font-style="normal" fill="#000" text-anchor="middle" textLength="7.56" lengthAdjust="spacingAndGlyphs" stroke="#000" stroke-width="0.14">50</text>
<text x="396.00" y="154.20" font-size="6.3" font-weight="normal" font-style="italic" fill="#000" text-anchor="start" stroke="#000" stroke-width="0.22">Colônia Leopoldina</text>
<text x="497.50" y="154.20" font-size="6.3" font-weight="normal" font-style="italic" fill="#000" text-anchor="middle" stroke="#000" stroke-width="0.22">22</text>
<text x="551.00" y="154.20" font-size="6.3" font-weight="normal" font-style="italic" fill="#000" text-anchor="middle" stroke="#000" stroke-width="0.22">474</text>
<text x="635.00" y="154.20" font-size="6.3" font-weight="normal" font-style="italic" fill="#000" text-anchor="middle" stroke="#000" stroke-width="0.22">496</text>
<text x="691.50" y="154.20" font-size="6.3" font-weight="normal" font-style="italic" fill="#000" text-anchor="middle" textLength="42.20" lengthAdjust="spacingAndGlyphs" stroke="#000" stroke-width="0.22">AGUARDANDO</text>
<text x="396.00" y="164.20" font-size="6.3" font-weight="normal" font-style="normal" fill="#000" text-anchor="start" stroke="#000" stroke-width="0.22">Coqueiro Seco</text>
<text x="497.50" y="164.20" font-size="6.3" font-weight="normal" font-style="normal" fill="#000" text-anchor="middle" stroke="#000" stroke-width="0.22">30</text>
<text x="551.00" y="164.20" font-size="6.3" font-weight="normal" font-style="normal" fill="#000" text-anchor="middle" stroke="#000" stroke-width="0.22">350</text>
<text x="635.30" y="164.20" font-size="7.3" font-weight="bold" font-style="normal" fill="#000" text-anchor="middle" textLength="11.35" lengthAdjust="spacingAndGlyphs" stroke="#000" stroke-width="0.14">380</text>
<text x="396.00" y="174.20" font-size="6.3" font-weight="normal" font-style="normal" fill="#000" text-anchor="start" stroke="#000" stroke-width="0.22">Coruripe</text>
<text x="497.50" y="174.20" font-size="6.3" font-weight="normal" font-style="normal" fill="#000" text-anchor="middle" stroke="#000" stroke-width="0.22">740</text>
<text x="551.00" y="174.20" font-size="6.3" font-weight="normal" font-style="normal" fill="#000" text-anchor="middle" stroke="#000" stroke-width="0.22">3195</text>
<text x="592.50" y="174.20" font-size="6.3" font-weight="normal" font-style="normal" fill="#000" text-anchor="middle" stroke="#000" stroke-width="0.22">1</text>
<text x="635.30" y="174.20" font-size="7.3" font-weight="bold" font-style="normal" fill="#000" text-anchor="middle" textLength="15.13" lengthAdjust="spacingAndGlyphs" stroke="#000" stroke-width="0.14">3936</text>
<text x="396.00" y="184.20" font-size="6.3" font-weight="normal" font-style="normal" fill="#000" text-anchor="start" stroke="#000" stroke-width="0.22">Craíbas</text>
<text x="551.00" y="184.20" font-size="6.3" font-weight="normal" font-style="normal" fill="#000" text-anchor="middle" stroke="#000" stroke-width="0.22">129</text>
<text x="635.30" y="184.20" font-size="7.3" font-weight="bold" font-style="normal" fill="#000" text-anchor="middle" textLength="11.35" lengthAdjust="spacingAndGlyphs" stroke="#000" stroke-width="0.14">129</text>
<text x="396.00" y="194.20" font-size="6.3" font-weight="normal" font-style="italic" fill="#000" text-anchor="start" stroke="#000" stroke-width="0.22">Dois Riachos</text>
<text x="497.50" y="194.20" font-size="6.3" font-weight="normal" font-style="italic" fill="#000" text-anchor="middle" stroke="#000" stroke-width="0.22">10</text>
<text x="551.00" y="194.20" font-size="6.3" font-weight="normal" font-style="italic" fill="#000" text-anchor="middle" stroke="#000" stroke-width="0.22">26</text>
<text x="635.00" y="194.20" font-size="6.3" font-weight="normal" font-style="italic" fill="#000" text-anchor="middle" stroke="#000" stroke-width="0.22">36</text>
<text x="691.50" y="194.20" font-size="6.3" font-weight="normal" font-style="italic" fill="#000" text-anchor="middle" textLength="42.20" lengthAdjust="spacingAndGlyphs" stroke="#000" stroke-width="0.22">AGUARDANDO</text>
<text x="396.00" y="204.20" font-size="6.3" font-weight="normal" font-style="italic" fill="#000" text-anchor="start" stroke="#000" stroke-width="0.22">Feira Grande</text>
<text x="497.50" y="204.20" font-size="6.3" font-weight="normal" font-style="italic" fill="#000" text-anchor="middle" stroke="#000" stroke-width="0.22">13</text>
<text x="551.00" y="204.20" font-size="6.3" font-weight="normal" font-style="italic" fill="#000" text-anchor="middle" stroke="#000" stroke-width="0.22">13</text>
<text x="635.00" y="204.20" font-size="6.3" font-weight="normal" font-style="italic" fill="#000" text-anchor="middle" stroke="#000" stroke-width="0.22">26</text>
<text x="691.50" y="204.20" font-size="6.3" font-weight="normal" font-style="italic" fill="#000" text-anchor="middle" textLength="42.20" lengthAdjust="spacingAndGlyphs" stroke="#000" stroke-width="0.22">AGUARDANDO</text>
<text x="396.00" y="214.20" font-size="6.3" font-weight="normal" font-style="normal" fill="#000" text-anchor="start" stroke="#000" stroke-width="0.22">Feliz Deserto</text>
<text x="497.50" y="214.20" font-size="6.3" font-weight="normal" font-style="normal" fill="#000" text-anchor="middle" stroke="#000" stroke-width="0.22">116</text>
<text x="551.00" y="214.20" font-size="6.3" font-weight="normal" font-style="normal" fill="#000" text-anchor="middle" stroke="#000" stroke-width="0.22">412</text>
<text x="635.30" y="214.20" font-size="7.3" font-weight="bold" font-style="normal" fill="#000" text-anchor="middle" textLength="11.35" lengthAdjust="spacingAndGlyphs" stroke="#000" stroke-width="0.14">528</text>
<text x="396.00" y="224.20" font-size="6.3" font-weight="normal" font-style="normal" fill="#000" text-anchor="start" stroke="#000" stroke-width="0.22">Girau do Ponciano</text>
<text x="497.50" y="224.20" font-size="6.3" font-weight="normal" font-style="normal" fill="#000" text-anchor="middle" stroke="#000" stroke-width="0.22">33</text>
<text x="551.00" y="224.20" font-size="6.3" font-weight="normal" font-style="normal" fill="#000" text-anchor="middle" stroke="#000" stroke-width="0.22">90</text>
<text x="635.30" y="224.20" font-size="7.3" font-weight="bold" font-style="normal" fill="#000" text-anchor="middle" textLength="11.35" lengthAdjust="spacingAndGlyphs" stroke="#000" stroke-width="0.14">123</text>
<text x="396.00" y="234.20" font-size="6.3" font-weight="normal" font-style="normal" fill="#000" text-anchor="start" stroke="#000" stroke-width="0.22">Igreja Nova</text>
<text x="497.50" y="234.20" font-size="6.3" font-weight="normal" font-style="normal" fill="#000" text-anchor="middle" stroke="#000" stroke-width="0.22">87</text>
<text x="551.00" y="234.20" font-size="6.3" font-weight="normal" font-style="normal" fill="#000" text-anchor="middle" stroke="#000" stroke-width="0.22">374</text>
<text x="635.30" y="234.20" font-size="7.3" font-weight="bold" font-style="normal" fill="#000" text-anchor="middle" textLength="11.35" lengthAdjust="spacingAndGlyphs" stroke="#000" stroke-width="0.14">461</text>
<text x="396.00" y="244.20" font-size="6.3" font-weight="normal" font-style="normal" fill="#000" text-anchor="start" stroke="#000" stroke-width="0.22">Jacuípe</text>
<text x="497.50" y="244.20" font-size="6.3" font-weight="normal" font-style="normal" fill="#000" text-anchor="middle" stroke="#000" stroke-width="0.22">350</text>
<text x="551.00" y="244.20" font-size="6.3" font-weight="normal" font-style="normal" fill="#000" text-anchor="middle" stroke="#000" stroke-width="0.22">2650</text>
<text x="635.30" y="244.20" font-size="7.3" font-weight="bold" font-style="normal" fill="#000" text-anchor="middle" textLength="15.13" lengthAdjust="spacingAndGlyphs" stroke="#000" stroke-width="0.14">3000</text>
<text x="396.00" y="254.20" font-size="6.3" font-weight="normal" font-style="normal" fill="#000" text-anchor="start" stroke="#000" stroke-width="0.22">Jequiá da Praia</text>
<text x="497.50" y="254.20" font-size="6.3" font-weight="normal" font-style="normal" fill="#000" text-anchor="middle" stroke="#000" stroke-width="0.22">126</text>
<text x="551.00" y="254.20" font-size="6.3" font-weight="normal" font-style="normal" fill="#000" text-anchor="middle" stroke="#000" stroke-width="0.22">1201</text>
<text x="635.30" y="254.20" font-size="7.3" font-weight="bold" font-style="normal" fill="#000" text-anchor="middle" textLength="15.13" lengthAdjust="spacingAndGlyphs" stroke="#000" stroke-width="0.14">1327</text>
<text x="396.00" y="264.20" font-size="6.3" font-weight="normal" font-style="normal" fill="#000" text-anchor="start" stroke="#000" stroke-width="0.22">Jundiá</text>
<text x="396.00" y="274.20" font-size="6.3" font-weight="normal" font-style="normal" fill="#000" text-anchor="start" stroke="#000" stroke-width="0.22">Limoeiro de Anadia</text>
<text x="497.50" y="274.20" font-size="6.3" font-weight="normal" font-style="normal" fill="#000" text-anchor="middle" stroke="#000" stroke-width="0.22">40</text>
<text x="551.00" y="274.20" font-size="6.3" font-weight="normal" font-style="normal" fill="#000" text-anchor="middle" stroke="#000" stroke-width="0.22">260</text>
<text x="635.30" y="274.20" font-size="7.3" font-weight="bold" font-style="normal" fill="#000" text-anchor="middle" textLength="11.35" lengthAdjust="spacingAndGlyphs" stroke="#000" stroke-width="0.14">300</text>
<text x="396.00" y="284.20" font-size="6.3" font-weight="normal" font-style="normal" fill="#000" text-anchor="start" stroke="#000" stroke-width="0.22">Maceió</text>
<text x="497.50" y="284.20" font-size="6.3" font-weight="normal" font-style="normal" fill="#000" text-anchor="middle" stroke="#000" stroke-width="0.22">3276</text>
<text x="551.00" y="284.20" font-size="6.3" font-weight="normal" font-style="normal" fill="#000" text-anchor="middle" stroke="#000" stroke-width="0.22">4519</text>
<text x="635.30" y="284.20" font-size="7.3" font-weight="bold" font-style="normal" fill="#000" text-anchor="middle" textLength="15.13" lengthAdjust="spacingAndGlyphs" stroke="#000" stroke-width="0.14">7795</text>
<text x="396.00" y="294.20" font-size="6.3" font-weight="normal" font-style="normal" fill="#000" text-anchor="start" stroke="#000" stroke-width="0.22">Major Izidoro</text>
<text x="497.50" y="294.20" font-size="6.3" font-weight="normal" font-style="normal" fill="#000" text-anchor="middle" stroke="#000" stroke-width="0.22">140</text>
<text x="551.00" y="294.20" font-size="6.3" font-weight="normal" font-style="normal" fill="#000" text-anchor="middle" stroke="#000" stroke-width="0.22">200</text>
<text x="635.30" y="294.20" font-size="7.3" font-weight="bold" font-style="normal" fill="#000" text-anchor="middle" textLength="11.35" lengthAdjust="spacingAndGlyphs" stroke="#000" stroke-width="0.14">340</text>
<text x="396.00" y="304.20" font-size="6.3" font-weight="normal" font-style="normal" fill="#000" text-anchor="start" stroke="#000" stroke-width="0.22">Maragogi</text>
<text x="497.50" y="304.20" font-size="6.3" font-weight="normal" font-style="normal" fill="#000" text-anchor="middle" stroke="#000" stroke-width="0.22">11</text>
<text x="551.00" y="304.20" font-size="6.3" font-weight="normal" font-style="normal" fill="#000" text-anchor="middle" stroke="#000" stroke-width="0.22">180</text>
<text x="635.30" y="304.20" font-size="7.3" font-weight="bold" font-style="normal" fill="#000" text-anchor="middle" textLength="11.35" lengthAdjust="spacingAndGlyphs" stroke="#000" stroke-width="0.14">191</text>
<text x="396.00" y="314.20" font-size="6.3" font-weight="normal" font-style="normal" fill="#000" text-anchor="start" stroke="#000" stroke-width="0.22">Marechal Deodoro</text>
<text x="497.50" y="314.20" font-size="6.3" font-weight="normal" font-style="normal" fill="#000" text-anchor="middle" stroke="#000" stroke-width="0.22">612</text>
<text x="551.00" y="314.20" font-size="6.3" font-weight="normal" font-style="normal" fill="#000" text-anchor="middle" stroke="#000" stroke-width="0.22">3208</text>
<text x="635.30" y="314.20" font-size="7.3" font-weight="bold" font-style="normal" fill="#000" text-anchor="middle" textLength="15.13" lengthAdjust="spacingAndGlyphs" stroke="#000" stroke-width="0.14">3820</text>
<text x="396.00" y="324.20" font-size="6.3" font-weight="normal" font-style="normal" fill="#000" text-anchor="start" stroke="#000" stroke-width="0.22">Matriz de Camaragibe</text>
<text x="497.50" y="324.20" font-size="6.3" font-weight="normal" font-style="normal" fill="#000" text-anchor="middle" stroke="#000" stroke-width="0.22">493</text>
<text x="551.00" y="324.20" font-size="6.3" font-weight="normal" font-style="normal" fill="#000" text-anchor="middle" stroke="#000" stroke-width="0.22">1358</text>
<text x="592.50" y="324.20" font-size="6.3" font-weight="normal" font-style="normal" fill="#000" text-anchor="middle" stroke="#000" stroke-width="0.22">1</text>
<text x="635.30" y="324.20" font-size="7.3" font-weight="bold" font-style="normal" fill="#000" text-anchor="middle" textLength="15.13" lengthAdjust="spacingAndGlyphs" stroke="#000" stroke-width="0.14">1852</text>
<text x="396.00" y="334.20" font-size="6.3" font-weight="normal" font-style="normal" fill="#000" text-anchor="start" stroke="#000" stroke-width="0.22">Murici</text>
<text x="497.50" y="334.20" font-size="6.3" font-weight="normal" font-style="normal" fill="#000" text-anchor="middle" stroke="#000" stroke-width="0.22">1012</text>
<text x="551.00" y="334.20" font-size="6.3" font-weight="normal" font-style="normal" fill="#000" text-anchor="middle" stroke="#000" stroke-width="0.22">1500</text>
<text x="635.30" y="334.20" font-size="7.3" font-weight="bold" font-style="normal" fill="#000" text-anchor="middle" textLength="15.13" lengthAdjust="spacingAndGlyphs" stroke="#000" stroke-width="0.14">2512</text>
<text x="396.00" y="344.20" font-size="6.3" font-weight="normal" font-style="normal" fill="#000" text-anchor="start" stroke="#000" stroke-width="0.22">Palmeira dos Índios</text>
<text x="497.50" y="344.20" font-size="6.3" font-weight="normal" font-style="normal" fill="#000" text-anchor="middle" stroke="#000" stroke-width="0.22">310</text>
<text x="551.00" y="344.20" font-size="6.3" font-weight="normal" font-style="normal" fill="#000" text-anchor="middle" stroke="#000" stroke-width="0.22">56</text>
<text x="592.50" y="344.20" font-size="6.3" font-weight="normal" font-style="normal" fill="#000" text-anchor="middle" stroke="#000" stroke-width="0.22">1</text>
<text x="635.30" y="344.20" font-size="7.3" font-weight="bold" font-style="normal" fill="#000" text-anchor="middle" textLength="11.35" lengthAdjust="spacingAndGlyphs" stroke="#000" stroke-width="0.14">367</text>
<text x="396.00" y="354.20" font-size="6.3" font-weight="normal" font-style="normal" fill="#000" text-anchor="start" stroke="#000" stroke-width="0.22">Pão de Açúcar</text>
<text x="497.50" y="354.20" font-size="6.3" font-weight="normal" font-style="normal" fill="#000" text-anchor="middle" stroke="#000" stroke-width="0.22">39</text>
<text x="551.00" y="354.20" font-size="6.3" font-weight="normal" font-style="normal" fill="#000" text-anchor="middle" stroke="#000" stroke-width="0.22">24</text>
<text x="635.30" y="354.20" font-size="7.3" font-weight="bold" font-style="normal" fill="#000" text-anchor="middle" textLength="7.56" lengthAdjust="spacingAndGlyphs" stroke="#000" stroke-width="0.14">63</text>
<text x="396.00" y="364.20" font-size="6.3" font-weight="normal" font-style="normal" fill="#000" text-anchor="start" stroke="#000" stroke-width="0.22">Paripueira</text>
<text x="497.50" y="364.20" font-size="6.3" font-weight="normal" font-style="normal" fill="#000" text-anchor="middle" stroke="#000" stroke-width="0.22">2</text>
<text x="635.30" y="364.20" font-size="7.3" font-weight="bold" font-style="normal" fill="#000" text-anchor="middle" textLength="3.78" lengthAdjust="spacingAndGlyphs" stroke="#000" stroke-width="0.14">2</text>
<text x="396.00" y="374.20" font-size="6.3" font-weight="normal" font-style="normal" fill="#000" text-anchor="start" stroke="#000" stroke-width="0.22">Paulo Jacinto</text>
<text x="497.50" y="374.20" font-size="6.3" font-weight="normal" font-style="normal" fill="#000" text-anchor="middle" stroke="#000" stroke-width="0.22">27</text>
<text x="551.00" y="374.20" font-size="6.3" font-weight="normal" font-style="normal" fill="#000" text-anchor="middle" stroke="#000" stroke-width="0.22">500</text>
<text x="635.30" y="374.20" font-size="7.3" font-weight="bold" font-style="normal" fill="#000" text-anchor="middle" textLength="11.35" lengthAdjust="spacingAndGlyphs" stroke="#000" stroke-width="0.14">527</text>
<text x="396.00" y="384.20" font-size="6.3" font-weight="normal" font-style="normal" fill="#000" text-anchor="start" stroke="#000" stroke-width="0.22">Penedo</text>
<text x="497.50" y="384.20" font-size="6.3" font-weight="normal" font-style="normal" fill="#000" text-anchor="middle" stroke="#000" stroke-width="0.22">271</text>
<text x="551.00" y="384.20" font-size="6.3" font-weight="normal" font-style="normal" fill="#000" text-anchor="middle" stroke="#000" stroke-width="0.22">1711</text>
<text x="635.30" y="384.20" font-size="7.3" font-weight="bold" font-style="normal" fill="#000" text-anchor="middle" textLength="15.13" lengthAdjust="spacingAndGlyphs" stroke="#000" stroke-width="0.14">1982</text>
<text x="396.00" y="394.20" font-size="6.3" font-weight="normal" font-style="normal" fill="#000" text-anchor="start" stroke="#000" stroke-width="0.22">Piaçabuçu</text>
<text x="497.50" y="394.20" font-size="6.3" font-weight="normal" font-style="normal" fill="#000" text-anchor="middle" stroke="#000" stroke-width="0.22">12</text>
<text x="551.00" y="394.20" font-size="6.3" font-weight="normal" font-style="normal" fill="#000" text-anchor="middle" stroke="#000" stroke-width="0.22">70</text>
<text x="635.30" y="394.20" font-size="7.3" font-weight="bold" font-style="normal" fill="#000" text-anchor="middle" textLength="7.56" lengthAdjust="spacingAndGlyphs" stroke="#000" stroke-width="0.14">82</text>
<text x="396.00" y="404.20" font-size="6.3" font-weight="normal" font-style="normal" fill="#000" text-anchor="start" stroke="#000" stroke-width="0.22">Pilar</text>
<text x="497.50" y="404.20" font-size="6.3" font-weight="normal" font-style="normal" fill="#000" text-anchor="middle" stroke="#000" stroke-width="0.22">172</text>
<text x="551.00" y="404.20" font-size="6.3" font-weight="normal" font-style="normal" fill="#000" text-anchor="middle" stroke="#000" stroke-width="0.22">3554</text>
<text x="635.30" y="404.20" font-size="7.3" font-weight="bold" font-style="normal" fill="#000" text-anchor="middle" textLength="15.13" lengthAdjust="spacingAndGlyphs" stroke="#000" stroke-width="0.14">3726</text>
<text x="396.00" y="414.20" font-size="6.3" font-weight="normal" font-style="normal" fill="#000" text-anchor="start" stroke="#000" stroke-width="0.22">Porto Calvo</text>
<text x="497.50" y="414.20" font-size="6.3" font-weight="normal" font-style="normal" fill="#000" text-anchor="middle" stroke="#000" stroke-width="0.22">29</text>
<text x="551.00" y="414.20" font-size="6.3" font-weight="normal" font-style="normal" fill="#000" text-anchor="middle" stroke="#000" stroke-width="0.22">325</text>
<text x="635.30" y="414.20" font-size="7.3" font-weight="bold" font-style="normal" fill="#000" text-anchor="middle" textLength="11.35" lengthAdjust="spacingAndGlyphs" stroke="#000" stroke-width="0.14">354</text>
<text x="396.00" y="424.20" font-size="6.3" font-weight="normal" font-style="italic" fill="#000" text-anchor="start" stroke="#000" stroke-width="0.22">Porto de Pedras</text>
<text x="497.50" y="424.20" font-size="6.3" font-weight="normal" font-style="italic" fill="#000" text-anchor="middle" stroke="#000" stroke-width="0.22">32</text>
<text x="551.00" y="424.20" font-size="6.3" font-weight="normal" font-style="italic" fill="#000" text-anchor="middle" stroke="#000" stroke-width="0.22">23</text>
<text x="635.00" y="424.20" font-size="6.3" font-weight="normal" font-style="italic" fill="#000" text-anchor="middle" stroke="#000" stroke-width="0.22">55</text>
<text x="691.50" y="424.20" font-size="6.3" font-weight="normal" font-style="italic" fill="#000" text-anchor="middle" textLength="42.20" lengthAdjust="spacingAndGlyphs" stroke="#000" stroke-width="0.22">AGUARDANDO</text>
</svg>
</body></html>
